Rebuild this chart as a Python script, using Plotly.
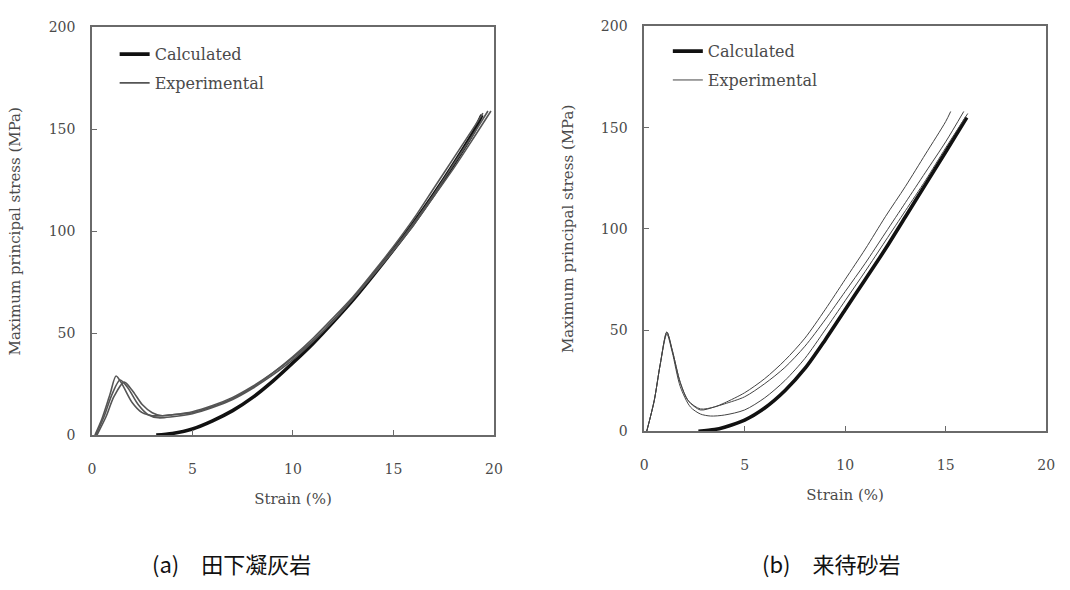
import plotly.graph_objects as go

# ---------------- data ----------------
# (a) Tage tuff
calc_a_strain = [3.2, 4, 5, 6, 7, 8, 9, 10, 11, 12, 13, 14, 15, 16, 17, 18, 19, 19.4]
calc_a_stress = [0, 0.8, 3, 7, 12, 18.5, 26.5, 35.5, 45, 55.5, 66.5, 78.5, 91, 104, 118, 133, 149, 157]

exp_a1_strain = [0.15, 0.5, 0.9, 1.2, 1.5, 2.0, 2.5, 3.0, 3.5, 4, 5, 6, 7, 8, 9, 10, 11, 12, 13, 14, 15, 16, 17, 18, 19, 19.45]
exp_a1_stress = [0, 8, 20, 29, 25, 16, 11, 9.5, 9.5, 10, 11, 14, 18, 23.5, 30.5, 38.5, 47.5, 57.5, 68, 80, 92.5, 106, 121, 136, 151, 158]
exp_a2_strain = [0.2, 0.6, 1.0, 1.4, 1.8, 2.3, 2.8, 3.3, 4, 5, 6, 7, 8, 9, 10, 11, 12, 13, 14, 15, 16, 17, 18, 19, 19.7]
exp_a2_stress = [0, 9, 20, 27, 23, 15, 10, 8.5, 9, 10.5, 13.5, 17.5, 23, 29.5, 37, 46, 56, 67, 79, 91, 104, 118, 133, 148, 159]
exp_a3_strain = [0.25, 0.7, 1.1, 1.6, 2.0, 2.5, 3.0, 3.5, 4, 5, 6, 7, 8, 9, 10, 11, 12, 13, 14, 15, 16, 17, 18, 19, 19.85]
exp_a3_stress = [0, 9, 19, 26, 22, 15, 11, 9.5, 10, 11.5, 14.5, 18.5, 24, 30.5, 38, 46.5, 56, 67, 78.5, 90.5, 103, 117, 131, 146, 159]

# (b) Kimachi sandstone
calc_b_strain = [2.7, 3.5, 4, 5, 6, 7, 8, 9, 10, 11, 12, 13, 14, 15, 16.05]
calc_b_stress = [0, 0.8, 2, 5.5, 11.5, 20, 31, 45, 60, 75, 90, 106, 122, 138, 155]

exp_b1_strain = [0.13, 0.5, 0.8, 1.13, 1.4, 1.8, 2.2, 2.8, 3.5, 4, 5, 6, 7, 8, 9, 10, 11, 12, 13, 14, 15, 15.25]
exp_b1_stress = [0, 15, 33, 49, 40, 24, 15, 11, 12, 14, 19, 26, 35, 46, 60, 75, 90, 106, 121, 137, 153, 158]
exp_b2_strain = [0.13, 0.5, 0.8, 1.13, 1.4, 1.8, 2.2, 2.8, 3.5, 4, 5, 6, 7, 8, 9, 10, 11, 12, 13, 14, 15, 15.9]
exp_b2_stress = [0, 15, 33, 49, 40, 24, 15, 10.5, 12, 13.5, 17, 23.5, 31.5, 42, 55, 69, 83, 98, 113, 128, 143, 158]
exp_b3_strain = [0.13, 0.5, 0.8, 1.13, 1.4, 1.8, 2.3, 2.8, 3.3, 4, 5, 6, 7, 8, 9, 10, 11, 12, 13, 14, 15, 16.1]
exp_b3_stress = [0, 15, 33, 48, 39, 22, 12, 8.5, 7.5, 8, 10.5, 16.5, 25, 36, 50, 64.5, 79, 94, 109, 124, 140, 157]

x_ticks = [0, 5, 10, 15, 20]
y_ticks = [0, 50, 100, 150, 200]

captions = ["(a)\u3000田下凝灰岩", "(b)\u3000来待砂岩"]

# ---------------- figure ----------------
SERIF = "DejaVu Serif"
TXT = "#4a4a4a"
FRAME = "#6a6a6a"

fig = go.Figure()

def add_panel(xa, ya, legend, calc, exps, exp_color, exp_width):
    cx, cy = calc
    fig.add_trace(go.Scatter(
        x=cx, y=cy, mode="lines", name="Calculated", legendgroup="calc",
        line=dict(color="#111111", width=3.6, shape="spline", smoothing=0.8),
        xaxis=xa, yaxis=ya, legend=legend, showlegend=True))
    for i, (ex, ey) in enumerate(exps):
        fig.add_trace(go.Scatter(
            x=ex, y=ey, mode="lines", name="Experimental", legendgroup="exp",
            line=dict(color=exp_color, width=exp_width, shape="spline", smoothing=0.8),
            xaxis=xa, yaxis=ya, legend=legend, showlegend=(i == 0)))

add_panel("x", "y", "legend",
          (calc_a_strain, calc_a_stress),
          [(exp_a1_strain, exp_a1_stress), (exp_a2_strain, exp_a2_stress), (exp_a3_strain, exp_a3_stress)],
          "#555555", 1.6)
add_panel("x2", "y2", "legend2",
          (calc_b_strain, calc_b_stress),
          [(exp_b1_strain, exp_b1_stress), (exp_b2_strain, exp_b2_stress), (exp_b3_strain, exp_b3_stress)],
          "#444444", 1.0)

axis_common = dict(
    showline=True, linecolor=FRAME, linewidth=1.5, mirror=True,
    ticks="inside", ticklen=5, tickcolor=FRAME, tickwidth=1,
    showgrid=False, zeroline=False,
    tickfont=dict(family=SERIF, size=14, color=TXT),
)
title_font = dict(family=SERIF, size=15, color=TXT)

fig.update_layout(
    width=1070, height=590,
    margin=dict(l=0, r=0, t=0, b=0),
    paper_bgcolor="white", plot_bgcolor="white",
    xaxis=dict(domain=[89 / 1070, 496 / 1070], range=[0, 20], tickvals=x_ticks, anchor="y",
               ticklabelstandoff=20,
               title=dict(text="Strain (%)", font=title_font, standoff=18),
               **axis_common),
    yaxis=dict(domain=[1 - 439 / 590, 1 - 20 / 590], range=[0, 200], tickvals=y_ticks, anchor="x",
               ticklabelstandoff=12,
               title=dict(text="Maximum principal stress (MPa)", font=title_font, standoff=24),
               **axis_common),
    xaxis2=dict(domain=[648 / 1070, 1055 / 1070], range=[0, 20], tickvals=x_ticks, anchor="y2",
                ticklabelstandoff=20,
                title=dict(text="Strain (%)", font=title_font, standoff=18),
                **axis_common),
    yaxis2=dict(domain=[1 - 435 / 590, 1 - 19 / 590], range=[0, 200], tickvals=y_ticks, anchor="x2",
                ticklabelstandoff=12,
                title=dict(text="Maximum principal stress (MPa)", font=title_font, standoff=24),
                **axis_common),
    legend=dict(x=112 / 1070, y=1 - 30 / 590, xanchor="left", yanchor="top",
                font=dict(family=SERIF, size=16, color=TXT), bgcolor="rgba(0,0,0,0)",
                itemwidth=30, tracegroupgap=5),
    legend2=dict(x=672 / 1070, y=1 - 27 / 590, xanchor="left", yanchor="top",
                 font=dict(family=SERIF, size=16, color=TXT), bgcolor="rgba(0,0,0,0)",
                 itemwidth=30, tracegroupgap=5),
    showlegend=True,
)

for xl, text in zip([148 / 1070, 765 / 1070], captions):
    fig.add_annotation(x=xl, y=1 - 570 / 590, xref="paper", yref="paper",
                       xanchor="left", yanchor="middle", showarrow=False, text=text,
                       font=dict(family="Noto Sans CJK JP", size=22, color="#111111"))

fig.write_html("out.html")
